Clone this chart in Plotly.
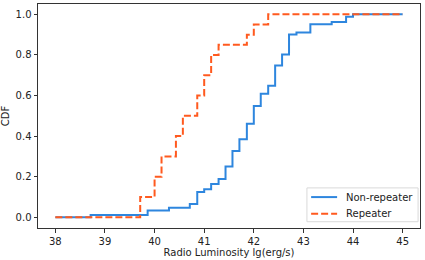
import plotly.graph_objects as go

# Non-repeater CDF steps (x = luminosity where step occurs, y = CDF after step)
nonrep_x = [38.0, 38.71, 39.86, 40.29, 40.71, 40.86, 41.0, 41.14, 41.29, 41.43, 41.57,
            41.71, 41.86, 42.0, 42.14, 42.29, 42.43, 42.57, 42.71, 42.86, 43.14,
            43.57, 43.86, 44.0, 45.0]
nonrep_y = [0.0, 0.011, 0.033, 0.047, 0.065, 0.125, 0.138, 0.164, 0.189, 0.25, 0.326,
            0.384, 0.461, 0.548, 0.609, 0.648, 0.748, 0.802, 0.901, 0.911, 0.951,
            0.962, 0.988, 1.0, 1.0]

# Repeater CDF steps
rep_x = [38.0, 39.71, 40.0, 40.14, 40.43, 40.57, 40.86, 41.0, 41.14, 41.29, 41.86,
         42.0, 42.29, 45.0]
rep_y = [0.0, 0.1, 0.2, 0.3, 0.4, 0.5, 0.6, 0.7, 0.8, 0.85, 0.9, 0.95, 1.0, 1.0]

x_ticks = [38, 39, 40, 41, 42, 43, 44, 45]
y_ticks = [0.0, 0.2, 0.4, 0.6, 0.8, 1.0]
y_tick_labels = ["0.0", "0.2", "0.4", "0.6", "0.8", "1.0"]
series_names = ["Non-repeater", "Repeater"]

BLUE = "#2E86DE"
ORANGE = "#FF5A1F"
FONT = "DejaVu Sans"
DASH = "7px,3px"

fig = go.Figure()
fig.add_trace(go.Scatter(x=nonrep_x, y=nonrep_y, mode="lines", line_shape="hv",
                         name=series_names[0], line=dict(color=BLUE, width=2),
                         showlegend=False))
fig.add_trace(go.Scatter(x=rep_x, y=rep_y, mode="lines", line_shape="hv",
                         name=series_names[1], line=dict(color=ORANGE, width=2, dash=DASH),
                         showlegend=False))

axis_common = dict(showgrid=False, zeroline=False, showline=True, linecolor="#333333",
                   linewidth=1, mirror=True, ticks="outside", ticklen=3.5, tickwidth=1,
                   tickcolor="#333333", automargin=False,
                   tickfont=dict(family=FONT, size=10, color="#222"))

fig.update_xaxes(range=[37.65, 45.35], tickvals=x_ticks, ticktext=[str(v) for v in x_ticks],
                 title=dict(text="Radio Luminosity lg(erg/s)", standoff=2,
                            font=dict(family=FONT, size=10, color="#222")),
                 **axis_common)
fig.update_yaxes(range=[-0.053, 1.051], tickvals=y_ticks, ticktext=y_tick_labels,
                 title=dict(text="CDF", standoff=4,
                            font=dict(family=FONT, size=10, color="#222")),
                 **axis_common)

# Custom legend (matplotlib-like, compact)
fig.add_shape(type="rect", xref="paper", yref="paper", x0=0.704, x1=0.995, y0=0.028, y1=0.179,
              line=dict(color="#d9d9d9", width=1), fillcolor="rgba(255,255,255,0.85)",
              layer="above")
legend_rows = [(0.138, BLUE, "solid"), (0.064, ORANGE, DASH)]
for (yy, col, dash), name in zip(legend_rows, series_names):
    fig.add_shape(type="line", xref="paper", yref="paper", x0=0.715, x1=0.783, y0=yy, y1=yy,
                  line=dict(color=col, width=2, dash=dash), layer="above")
    fig.add_annotation(xref="paper", yref="paper", x=0.801, y=yy, text=name, showarrow=False,
                       xanchor="left", yanchor="middle",
                       font=dict(family=FONT, size=10, color="#222"))

fig.update_layout(
    width=425, height=260,
    margin=dict(l=38, r=5, t=4, b=32),
    plot_bgcolor="white", paper_bgcolor="white",
    font=dict(family=FONT, size=10, color="#222"),
    showlegend=False,
)

fig.write_html("out.html", config={"displayModeBar": False},
               post_script="document.body.style.margin='0';document.body.style.padding='0';")
